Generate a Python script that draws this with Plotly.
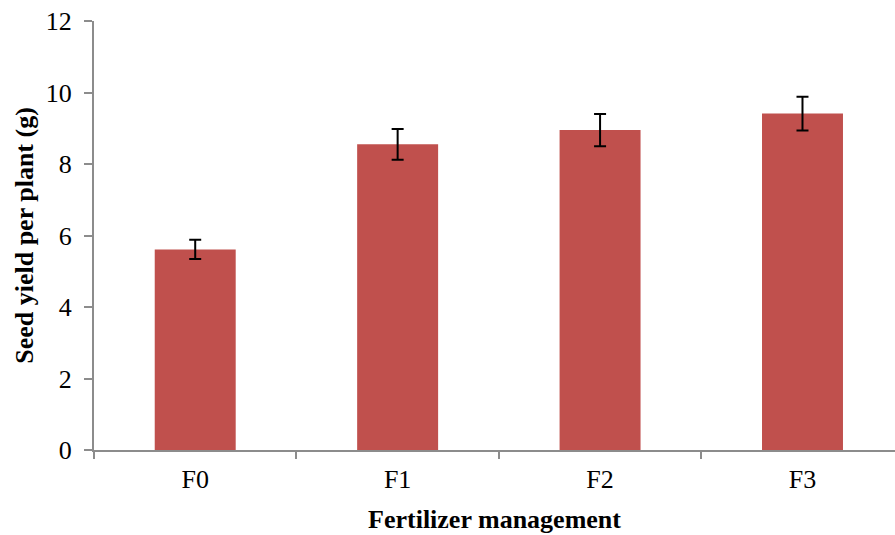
import plotly.graph_objects as go

# Seed yield per plant under each fertilizer treatment
treatments = ["F0", "F1", "F2", "F3"]
seed_yield = [5.61, 8.55, 8.95, 9.41]
yield_err = [0.27, 0.43, 0.45, 0.47]

y_ticks = [0, 2, 4, 6, 8, 10, 12]

axis_grey = "#8c8c8c"
font_family = "Liberation Serif, Times New Roman, serif"

fig = go.Figure(
    go.Bar(
        x=treatments,
        y=seed_yield,
        marker=dict(color="#C0504D", line=dict(width=0)),
        width=0.4,
        error_y=dict(
            type="data",
            array=yield_err,
            color="black",
            thickness=2,
            width=6,
        ),
    )
)

fig.update_layout(
    width=895,
    height=535,
    margin=dict(l=94, r=0, t=21, b=85),
    plot_bgcolor="white",
    paper_bgcolor="white",
    showlegend=False,
    font=dict(family=font_family, color="black", size=26),
    xaxis=dict(
        type="category",
        range=[-0.5, 3.457],
        showline=True,
        linecolor=axis_grey,
        linewidth=2,
        ticks="outside",
        tickson="boundaries",
        ticklen=7,
        tickcolor=axis_grey,
        tickwidth=2,
        showgrid=False,
        tickfont=dict(size=26),
        ticklabelstandoff=5,
        title=dict(
            text="<b>Fertilizer management</b>",
            font=dict(size=26),
            standoff=17,
        ),
    ),
    yaxis=dict(
        range=[0, 12],
        tickvals=y_ticks,
        showline=True,
        linecolor=axis_grey,
        linewidth=2,
        ticks="outside",
        ticklen=8,
        tickcolor=axis_grey,
        tickwidth=2,
        showgrid=False,
        zeroline=False,
        tickfont=dict(size=26),
        ticklabelstandoff=7,
        title=dict(
            text="<b>Seed yield per plant (g)</b>",
            font=dict(size=26),
            standoff=5,
        ),
    ),
)

fig.write_html("out.html")
